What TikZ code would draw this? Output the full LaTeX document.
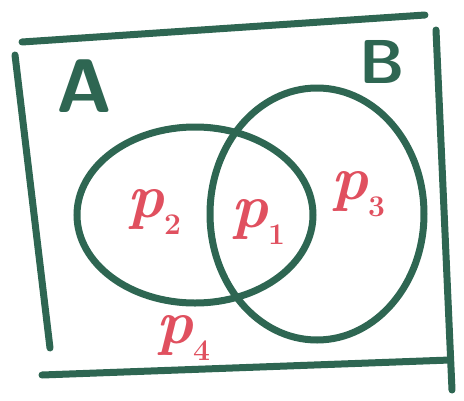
\documentclass[tikz,border=0pt]{standalone}
\usepackage{fontspec}
\usepackage{tikz}
\usetikzlibrary{shapes.geometric}

\definecolor{penGreen}{HTML}{2E6652}
\definecolor{penRed}{HTML}{E0505F}

% p with a lowered index, set in text so it scales freely
\newcommand{\pidx}[1]{\textit{p}\raisebox{-0.28em}{\fontsize{30}{30}\selectfont #1}}

\begin{document}
\begin{tikzpicture}[
    x=1pt, y=-1pt,
    stroke/.style={draw=penGreen, line width=7pt, line cap=round},
    setA/.style={stroke, ellipse, minimum width=236pt, minimum height=176pt, inner sep=0pt},
    setB/.style={stroke, ellipse, minimum width=214pt, minimum height=252pt, inner sep=0pt},
    setname/.style={text=penGreen, font=\fontsize{62}{62}\selectfont\sffamily\bfseries},
    part/.style={text=penRed, font=\fontsize{62}{62}\selectfont\bfseries},
]
\useasboundingbox (0,0) rectangle (464,400);

% universe, drawn as four loose strokes
\draw[stroke] (22,42) -- (425,15);
\draw[stroke] (15,55) -- (50,348);
\draw[stroke] (436,30) -- (452,390);
\draw[stroke] (42,375) -- (450,360);

% the two sets
\node[setA] (ca) at (195,215) {};
\node[setB] (cb) at (317,214) {};

% set names
\node[setname, font=\fontsize{76}{76}\selectfont\sffamily\bfseries] (la) at (84,86) {A};
\node[setname] (lb) at (382,62) {B};

% regions
\node[part] (p2) at (154,212) {\pidx{2}};
\node[part] (p1) at (258,222) {\pidx{1}};
\node[part] (p3) at (358,194) {\pidx{3}};
\node[part] (p4) at (183,338) {\pidx{4}};
\end{tikzpicture}
\end{document}
